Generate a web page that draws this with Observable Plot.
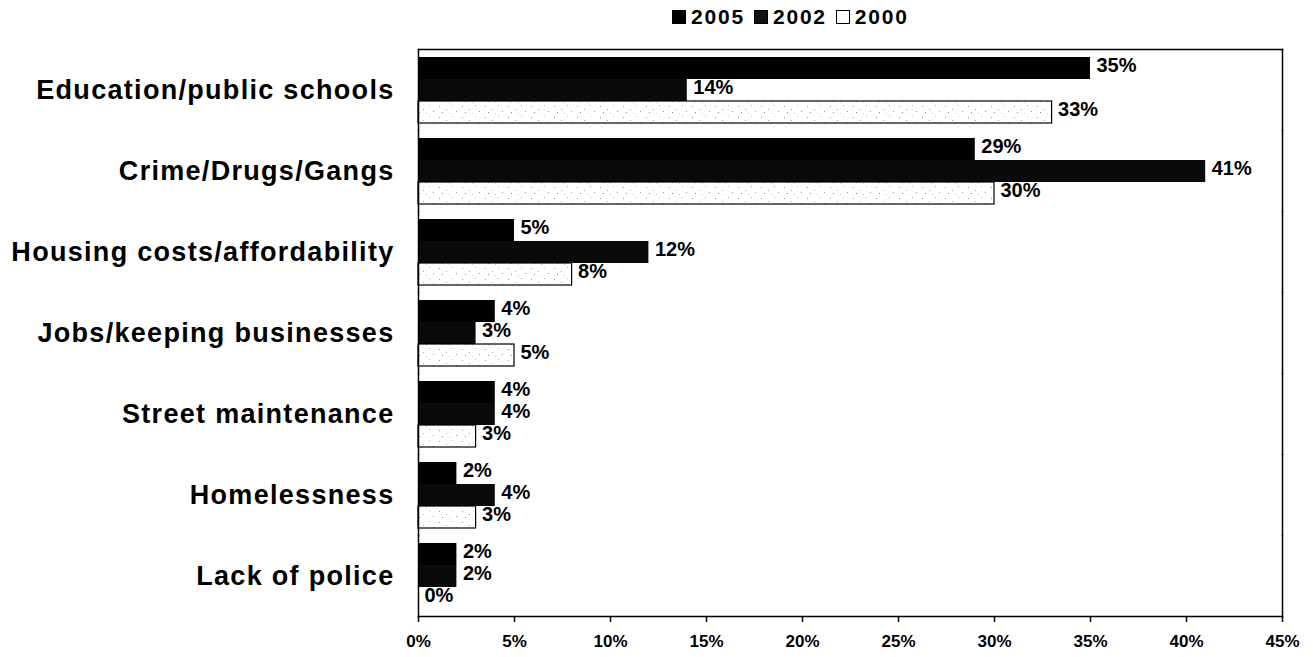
<!DOCTYPE html>
<html>
<head>
<meta charset="utf-8">
<script src="https://cdn.jsdelivr.net/npm/d3@7"></script>
<script src="https://cdn.jsdelivr.net/npm/@observablehq/plot@0.6"></script>
<style>
  html, body { margin: 0; padding: 0; background: #fff; }
  body { width: 1313px; height: 657px; overflow: hidden; font-family: "Liberation Sans", Arial, sans-serif; }
  #legend { position: relative; height: 36px; }
  #legend .items { position: absolute; left: 672px; top: 5px; display: flex; align-items: center; gap: 9px;
    font-weight: bold; font-size: 21px; letter-spacing: 1.8px; color: #000; }
  #legend .item { display: flex; align-items: center; gap: 5px; }
  #legend .sw { width: 14px; height: 14px; box-sizing: border-box; border: 1.5px solid #000; }
  #chart svg { display: block; }
</style>
</head>
<body>
<svg width="0" height="0" style="position:absolute">
  <defs>
    <pattern id="speckle" width="23" height="11" patternUnits="userSpaceOnUse">
      <rect width="23" height="11" fill="#fff"/>
      <rect x="2" y="2" width="1" height="1" fill="#999"/>
      <rect x="9" y="5" width="1" height="1" fill="#aaa"/>
      <rect x="5" y="8" width="1" height="1" fill="#888"/>
      <rect x="15" y="1" width="1" height="1" fill="#bbb"/>
      <rect x="19" y="7" width="1" height="1" fill="#999"/>
      <rect x="12" y="9" width="1" height="1" fill="#ccc"/>
    </pattern>
  </defs>
</svg>
<div id="legend"><div class="items">
  <span class="item"><span class="sw" style="background:#000"></span>2005</span>
  <span class="item"><span class="sw" style="background:#111"></span>2002</span>
  <span class="item"><span class="sw" style="background:#fff"></span>2000</span>
</div></div>
<div id="chart"></div>
<script>
const categories = [
  "Education/public schools",
  "Crime/Drugs/Gangs",
  "Housing costs/affordability",
  "Jobs/keeping businesses",
  "Street maintenance",
  "Homelessness",
  "Lack of police"
];
const years = ["2005", "2002", "2000"];
const values2005 = [35, 29, 5, 4, 4, 2, 2];
const values2002 = [14, 41, 12, 3, 4, 4, 2];
const values2000 = [33, 30, 8, 5, 3, 3, 0];
const xTicks = [0, 5, 10, 15, 20, 25, 30, 35, 40, 45];

const seriesValues = {"2005": values2005, "2002": values2002, "2000": values2000};
const data = [];
categories.forEach((c, i) => {
  years.forEach(y => data.push({category: c, year: y, value: seriesValues[y][i]}));
});

const fills = {"2005": "#000", "2002": "#0a0a0a", "2000": "url(#speckle)"};

const chart = Plot.plot({
  width: 1313,
  height: 621,
  marginLeft: 418,
  marginRight: 31,
  marginTop: 11,
  marginBottom: 39,
  style: {fontFamily: "'Liberation Sans', Arial, sans-serif", background: "#fff", color: "#000"},
  x: {domain: [0, 45], axis: null},
  y: {domain: years, paddingInner: 0, paddingOuter: 0.3, axis: null},
  fy: {domain: categories, padding: 0, label: null},
  marks: [
    Plot.barX(data, {
      fy: "category", y: "year", x: "value",
      fill: d => fills[d.year],
      stroke: d => d.year === "2000" ? "#000" : "none",
      strokeWidth: 1.2
    }),
    Plot.text(data, {
      fy: "category", y: "year", x: "value",
      text: d => d.value + "%",
      textAnchor: "start", dx: 6, dy: -3,
      fontSize: 20, fontWeight: "bold", fill: "#000",
      style: "letter-spacing:2.3px"
    }),
    Plot.frame({anchor: "left", stroke: "#000", strokeWidth: 1.5}),
    Plot.frame({anchor: "right", stroke: "#000", strokeWidth: 1.5}),
    Plot.frame({anchor: "top", stroke: "#000", strokeWidth: 1.5, facetAnchor: "top"}),
    Plot.frame({anchor: "bottom", stroke: "#000", strokeWidth: 1.5, facetAnchor: "bottom"}),
    Plot.axisFy({
      anchor: "left", tickSize: 0, tickPadding: 24, label: null,
      fontSize: 27, fontWeight: "bold", fill: "#000"
    }),
    Plot.axisX({
      anchor: "bottom", ticks: xTicks, tickFormat: d => d + "%",
      tickSize: 6, tickPadding: 12, label: null,
      fontSize: 17, fontWeight: "bold", fill: "#000", stroke: "#000", strokeWidth: 1.5
    })
  ]
});
document.getElementById("chart").appendChild(chart);
chart.querySelectorAll("text").forEach(t => {
  if (t.closest("g[aria-label='fy-axis tick label']")) t.style.letterSpacing = "1.3px";
});
</script>
</body>
</html>
